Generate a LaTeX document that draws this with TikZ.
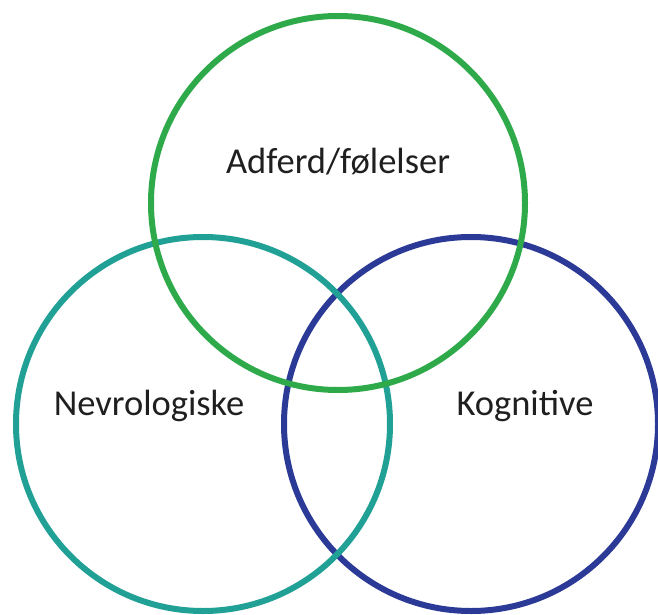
\documentclass[tikz,border=0pt]{standalone}
\usepackage{fontspec}
\setmainfont{Carlito}
\definecolor{ringgreen}{HTML}{2EAA4A}
\definecolor{ringteal}{HTML}{21A096}
\definecolor{ringblue}{HTML}{2B3A97}
\begin{document}
\begin{tikzpicture}[x=1pt,y=-1pt,
  ring/.style={line width=6pt},
  label/.style={anchor=base,inner sep=0pt,font=\fontsize{36.5}{42}\selectfont,text=black!88}]
\useasboundingbox (0,0) rectangle (658,615);
\draw[ring,ringblue] (471,424) circle[radius=187];
\draw[ring,ringteal] (203,424) circle[radius=187];
\draw[ring,ringgreen] (338,203) circle[radius=187];
\node[label] (behav) at (338,173) {Adferd/følelser};
\node[label] (neuro) at (149,415) {Nevrologiske};
\node[label] (cogn) at (525,415) {Kognitive};
\end{tikzpicture}
\end{document}
